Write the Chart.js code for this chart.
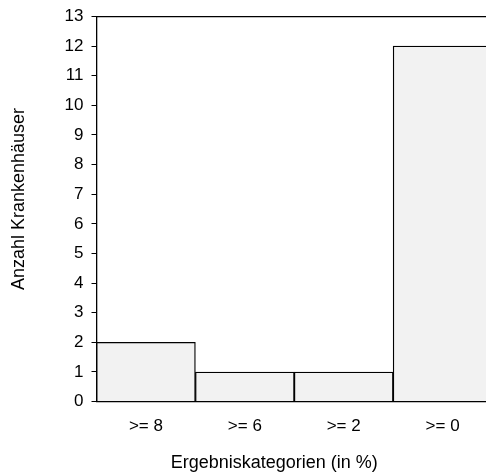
<!DOCTYPE html>
<html>
<head>
<meta charset="utf-8">
<script src="https://cdn.jsdelivr.net/npm/chart.js@4"></script>
<style>
  html, body { margin: 0; padding: 0; background: #fff; overflow: hidden; }
  #wrap { width: 492px; height: 472px; }
</style>
</head>
<body>
<div id="wrap"><canvas id="histChart"></canvas></div>
<script>
const categories = ['>= 8', '>= 6', '>= 2', '>= 0'];
const hospitalCounts = [2, 1, 1, 12];
const yTickMax = 13;

const ctx = document.getElementById('histChart').getContext('2d');
const family = 'Liberation Sans, Arial, sans-serif';
// titles sit a bit off-centre in the original, nudge with spaces
const nb = n => '\u00a0'.repeat(n);

new Chart(ctx, {
    type: 'bar',
    data: {
        labels: categories,
        datasets: [{
            data: hospitalCounts,
            backgroundColor: '#f2f2f2',
            borderColor: '#000',
            borderWidth: 1.3,
            barPercentage: 1,
            categoryPercentage: 1
        }]
    },
    options: {
        responsive: true,
        maintainAspectRatio: false,
        animation: false,
        layout: { padding: { top: 6, left: 0, right: 0, bottom: 0 } },
        plugins: {
            legend: { display: false },
            tooltip: { enabled: false }
        },
        scales: {
            x: {
                grid: { display: false, drawTicks: false },
                border: { color: '#000', width: 1.3 },
                ticks: { color: '#000', font: { family, size: 17 }, padding: 15 },
                title: {
                    display: true,
                    text: 'Ergebniskategorien (in %)' + nb(8),
                    color: '#000',
                    font: { family, size: 18, lineHeight: 1 },
                    padding: { top: 2, bottom: 0 }
                }
            },
            xTop: {
                type: 'category',
                position: 'top',
                grid: { display: false, drawTicks: false },
                border: { color: '#000', width: 1.3 },
                ticks: { display: false }
            },
            y: {
                min: 0,
                max: yTickMax,
                ticks: { stepSize: 1, color: '#000', font: { family, size: 17, lineHeight: 1 }, padding: 8 },
                grid: { drawOnChartArea: false, color: '#000', tickLength: 5 },
                border: { color: '#000', width: 1.3 },
                title: {
                    display: true,
                    text: nb(4) + 'Anzahl Krankenhäuser',
                    color: '#000',
                    font: { family, size: 18 },
                    padding: { top: 8, bottom: 27 }
                }
            }
        }
    }
});
</script>
</body>
</html>
